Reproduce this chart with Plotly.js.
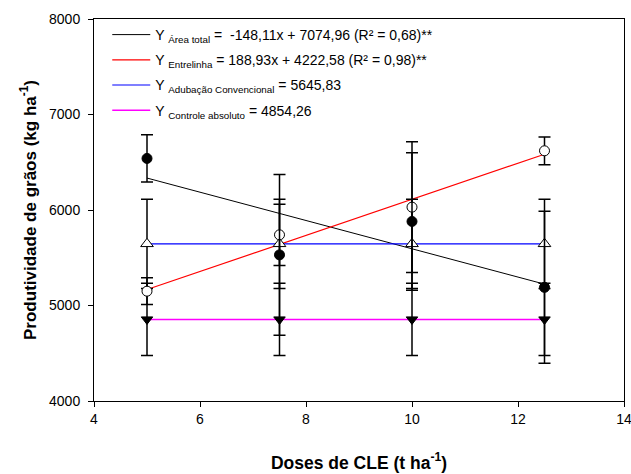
<!DOCTYPE html>
<html>
<head>
<meta charset="utf-8">
<script src="https://cdn.plot.ly/plotly-3.0.1.min.js"></script>
<style>html,body{margin:0;padding:0;background:#fff;}#chart{width:631px;height:474px;}</style>
</head>
<body>
<div id="chart"></div>
<script>
// Doses (t ha-1)
const doses = [5, 7.5, 10, 12.5];
// Área total (filled circles)
const areaTotal = [6540, 5530, 5880, 5190];
const areaTotalErr = [247, 842, 720, 796];
// Entrelinha (open circles)
const entrelinha = [5150, 5740, 6030, 6620];
const entrelinhaErr = [140, 320, 684, 145];
// Adubação convencional (open triangles)
const adubacao = [5645.83, 5645.83, 5645.83, 5645.83];
const adubacaoErr = [468, 468, 468, 468];
// Controle absoluto (filled down triangles)
const controle = [4854.26, 4854.26, 4854.26, 4854.26];
const controleErr = [378, 378, 378, 378];
// Regression coefficients [slope, intercept]
const fitArea = [-148.11, 7074.96];
const fitEntre = [188.93, 4222.58];
const fitRange = [5, 12.5];

const legendNames = [
  "Y <sub>Área total</sub> =  -148,11x + 7074,96 (R² = 0,68)**",
  "Y <sub>Entrelinha</sub> = 188,93x + 4222,58 (R² = 0,98)**",
  "Y <sub>Adubação Convencional</sub> = 5645,83",
  "Y <sub>Controle absoluto</sub> = 4854,26"
];

const lineArea = fitRange.map(x => fitArea[0] * x + fitArea[1]);
const lineEntre = fitRange.map(x => fitEntre[0] * x + fitEntre[1]);
const lineAdub = fitRange.map(() => adubacao[0]);
const lineCtrl = fitRange.map(() => controle[0]);

function errBar(arr) {
  return {type: 'data', array: arr, visible: true, color: '#000', thickness: 1.5, width: 6};
}

const traces = [
  {x: fitRange, y: lineArea, mode: 'lines', line: {color: '#000000', width: 1}, name: legendNames[0], legendgroup: 'a'},
  {x: fitRange, y: lineEntre, mode: 'lines', line: {color: '#ff0000', width: 1.2}, name: legendNames[1], legendgroup: 'b'},
  {x: fitRange, y: lineAdub, mode: 'lines', line: {color: '#0000ff', width: 1.2}, name: legendNames[2], legendgroup: 'c'},
  {x: fitRange, y: lineCtrl, mode: 'lines', line: {color: '#ff00ff', width: 1.5}, name: legendNames[3], legendgroup: 'd'},
  {x: doses, y: controle, mode: 'markers', error_y: errBar(controleErr), showlegend: false,
   marker: {symbol: 'triangle-down', size: 10, color: '#000', line: {color: '#000', width: 1}}},
  {x: doses, y: adubacao, mode: 'markers', error_y: errBar(adubacaoErr), showlegend: false,
   marker: {symbol: 'triangle-up', size: 11, color: '#fff', line: {color: '#000', width: 1}}},
  {x: doses, y: entrelinha, mode: 'markers', error_y: errBar(entrelinhaErr), showlegend: false,
   marker: {symbol: 'circle', size: 10, color: '#fff', line: {color: '#000', width: 1}}},
  {x: doses, y: areaTotal, mode: 'markers', error_y: errBar(areaTotalErr), showlegend: false,
   marker: {symbol: 'circle', size: 10, color: '#000', line: {color: '#000', width: 1}}}
];

const fontFam = 'Liberation Sans, Arial, sans-serif';
const layout = {
  width: 631, height: 474,
  margin: {l: 94, r: 7, t: 19, b: 73},
  paper_bgcolor: '#fff', plot_bgcolor: '#fff',
  font: {family: fontFam, size: 14, color: '#000'},
  showlegend: true,
  legend: {
    x: 0.025, y: 1.0, xanchor: 'left', yanchor: 'top',
    bgcolor: 'rgba(0,0,0,0)', borderwidth: 0,
    font: {family: fontFam, size: 14, color: '#000'},
    tracegroupgap: 4, itemwidth: 38, traceorder: 'grouped'
  },
  xaxis: {
    range: [4, 14], tickvals: [4, 6, 8, 10, 12, 14],
    showgrid: false, zeroline: false, showline: true, linecolor: '#000', linewidth: 1, mirror: true,
    ticks: 'outside', ticklen: 5, tickcolor: '#000', tickfont: {size: 14},
    ticklabeloverflow: 'allow',
    title: {text: 'Doses de CLE (t ha<sup>-1</sup>)', font: {size: 17.5, family: fontFam, weight: 'bold'}, standoff: 30}
  },
  yaxis: {
    range: [4000, 8000], tickvals: [4000, 5000, 6000, 7000, 8000],
    showgrid: false, zeroline: false, showline: true, linecolor: '#000', linewidth: 1, mirror: true,
    ticks: 'outside', ticklen: 5, tickcolor: '#000', tickfont: {size: 14},
    ticklabeloverflow: 'allow', ticklabelstandoff: 5,
    title: {text: 'Produtividade de grãos (kg ha<sup>-1</sup>)', font: {size: 17, family: fontFam, weight: 'bold'}, standoff: 8}
  }
};

Plotly.newPlot('chart', traces, layout, {displayModeBar: false, staticPlot: true});
</script>
</body>
</html>
